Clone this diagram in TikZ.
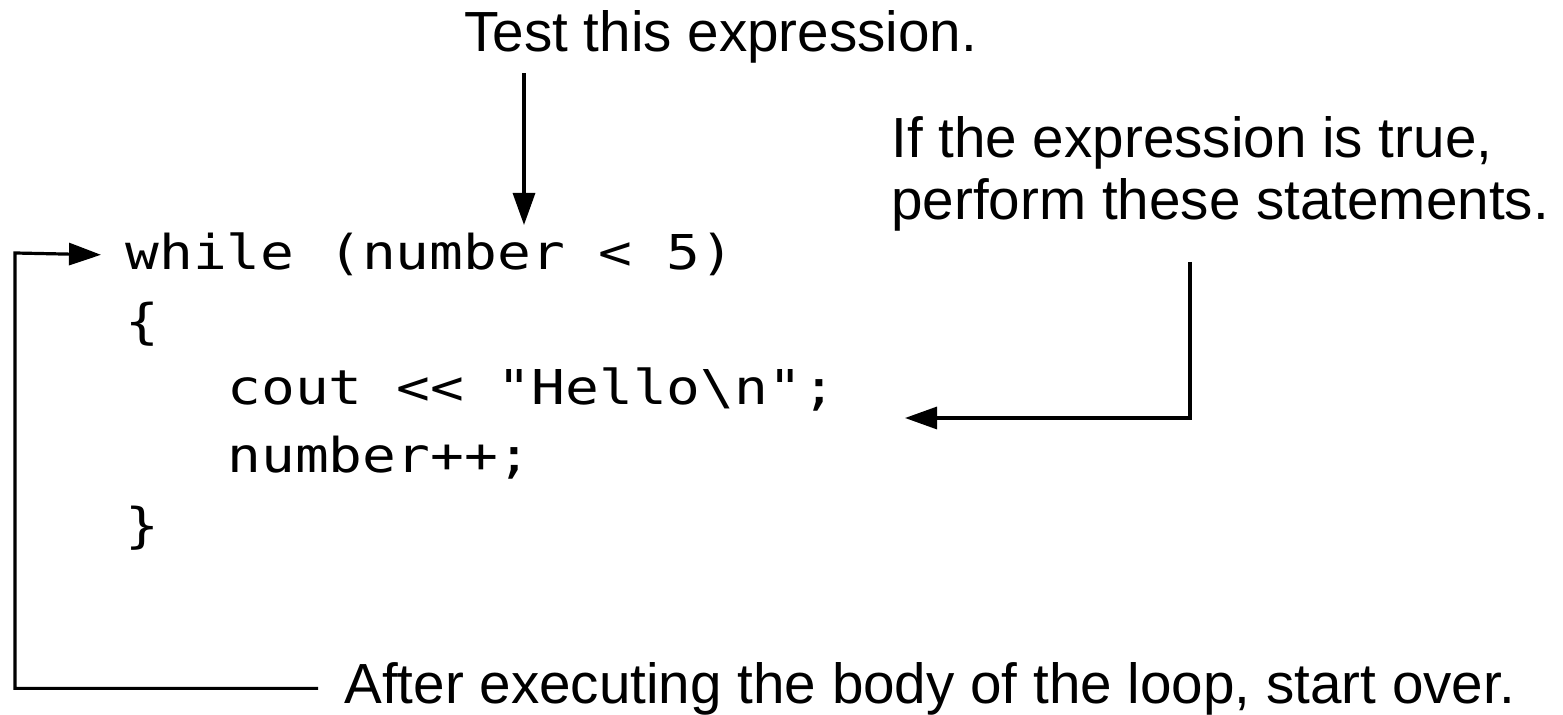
\documentclass[tikz,border=0pt]{standalone}
\usepackage{fontspec}
\setmainfont{Liberation Sans}
\newfontfamily\codefont{DejaVu Sans Mono}[FakeStretch=1.17]
\usetikzlibrary{arrows.meta}

\begin{document}
\begin{tikzpicture}[x=0.5pt,y=-0.5pt,
    label/.style={anchor=base west, inner sep=2pt, font=\fontsize{28.3}{32}\selectfont},
    code/.style={anchor=base west, inner sep=2pt, font=\codefont\fontsize{24}{30}\selectfont},
    arrow/.style={line width=1.6pt, -{Triangle[length=16pt,width=11pt]}}]
    \useasboundingbox (0,0) rectangle (1563,715);

    %code
    \node[code] (while) at (121,270) {while (number < 5)};
    \node[code] (lbrace) at (121,339) {\{};
    \node[code] (cout) at (223,405) {cout << "Hello\textbackslash n";};
    \node[code] (incr) at (223,473) {number++;};
    \node[code] (rbrace) at (121,543) {\}};

    %labels
    \node[label] (test) at (460,52) {Test this expression.};
    \node[label] (cond) at (887,158) {If the expression is true,};
    \node[label] (condb) at (887,220) {perform these statements.};
    \node[label] (after) at (340,703) {After executing the body of the loop, start over.};

    %arrows
    \coordinate (testtip) at (524,225);
    \coordinate (bodytop) at (1190,262);
    \coordinate (bodytip) at (905,418);
    \coordinate (loopcorner) at (15,253);

    \draw[arrow, shorten <=2.5pt] (test.south -| testtip) -- (testtip);
    \draw[arrow] (bodytop) |- (bodytip);
    \draw[arrow] ([xshift=-11pt]after.west) -| (loopcorner) -- ([xshift=-10pt]while.west);

\end{tikzpicture}
\end{document}
